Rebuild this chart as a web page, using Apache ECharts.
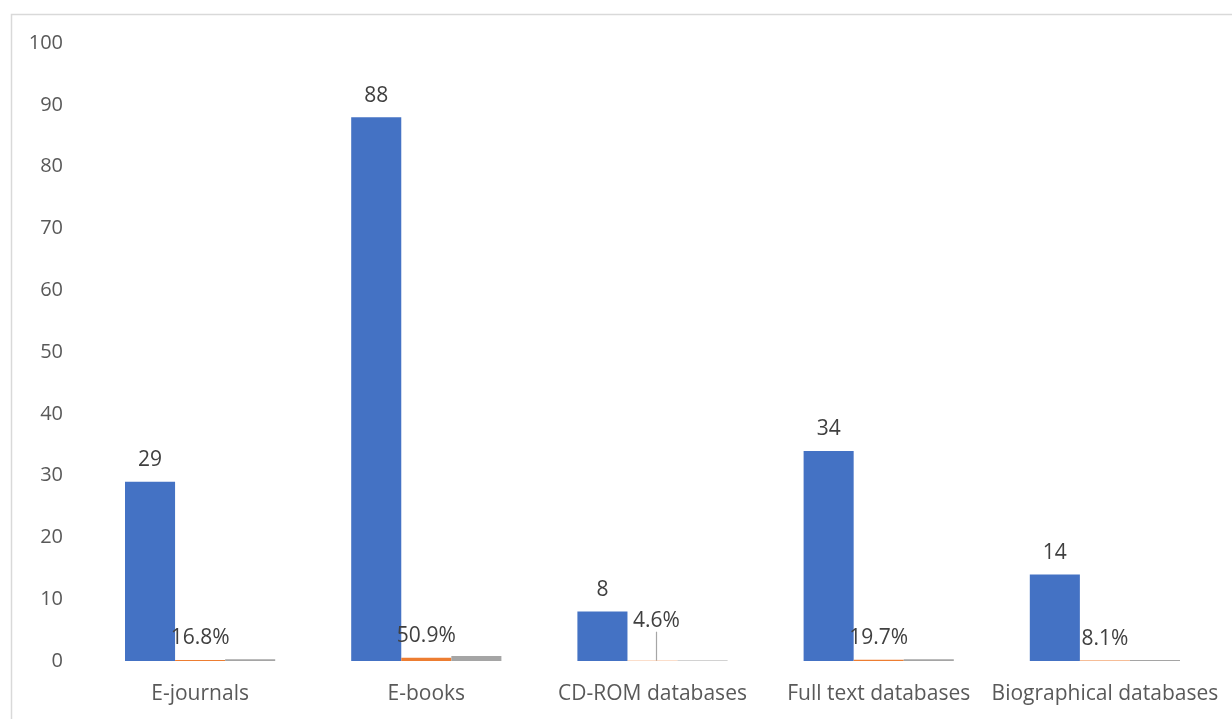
<!DOCTYPE html>
<html>
<head>
<meta charset="utf-8">
<script src="https://cdn.jsdelivr.net/npm/echarts@6/dist/echarts.min.js"></script>
<style>
  html, body { margin: 0; padding: 0; background: #fff; }
  #chart { width: 1232px; height: 719px; }
</style>
</head>
<body>
<div id="chart"></div>
<script>
// Electronic resources: counts, share of total, and a small third measure
const categories = ['E-journals', 'E-books', 'CD-ROM databases', 'Full text databases', 'Biographical databases'];
const counts = [29, 88, 8, 34, 14];
const shares = [0.168, 0.509, 0.046, 0.197, 0.081];
const thirdSeries = [0.3, 0.8, 0.1, 0.3, 0.15];
const yTicks = { min: 0, max: 100, interval: 10 };

const font = '"Open Sans", "Noto Sans", sans-serif';
const labelColor = '#404040';

const chart = echarts.init(document.getElementById('chart'));
chart.setOption({
  animation: false,
  backgroundColor: '#fff',
  graphic: [{
    type: 'rect',
    shape: { x: 11.5, y: 14.5, width: 1240, height: 720 },
    style: { fill: 'none', stroke: '#d9d9d9', lineWidth: 1.5 },
    silent: true
  }],
  grid: { left: 87, right: 14, top: 43, bottom: 58, containLabel: false },
  xAxis: {
    type: 'category',
    data: categories,
    axisLine: { show: false },
    axisTick: { show: false },
    axisLabel: { color: '#595959', fontSize: 21, fontFamily: font, margin: 23, interval: 0 }
  },
  yAxis: {
    type: 'value',
    min: yTicks.min, max: yTicks.max, interval: yTicks.interval,
    splitLine: { show: false },
    axisLine: { show: false },
    axisTick: { show: false },
    axisLabel: { color: '#595959', fontSize: 20, fontFamily: font, margin: 24 }
  },
  series: [
    {
      type: 'bar',
      data: counts,
      barGap: '0%',
      barCategoryGap: '33.6%',
      itemStyle: { color: '#4472c4' },
      label: { show: true, position: 'top', distance: 11, color: labelColor, fontSize: 21, fontFamily: font }
    },
    {
      type: 'bar',
      // the CD-ROM share label is lifted clear of its neighbour and tied back with a leader line
      data: shares.map((v, i) => (i === 2
        ? { value: v, labelLine: { show: true, lineStyle: { color: '#a6a6a6', width: 1.2 } } }
        : { value: v })),
      itemStyle: { color: '#ed7d31' },
      label: {
        show: true, position: 'top', distance: 11, color: labelColor, fontSize: 21, fontFamily: font,
        formatter: p => (p.value * 100).toFixed(1) + '%'
      },
      labelLayout: p => (p.dataIndex === 2 ? { dx: 4, dy: -18 } : {}),
      labelLine: { show: false }
    },
    {
      type: 'bar',
      data: thirdSeries,
      itemStyle: { color: '#a5a5a5' }
    }
  ]
});
</script>
</body>
</html>
